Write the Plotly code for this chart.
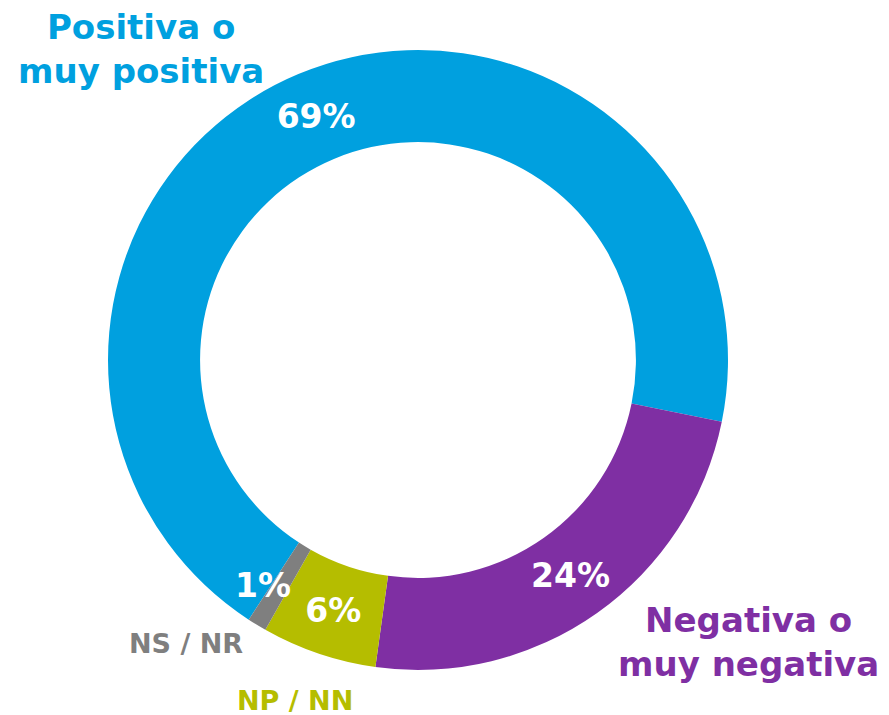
import math
import plotly.graph_objects as go

labels = ["Positiva o muy positiva", "Negativa o muy negativa", "NP / NN", "NS / NR"]
values = [69, 24, 6, 1]
colors = ["#00A0DF", "#7F2FA3", "#B5BD00", "#7F7F7F"]
pct_text = ["69%", "24%", "6%", "1%"]

W, H = 889, 715
FONT = "DejaVu Sans"
ROT = 213.1
HOLE = 0.703
DOM_X = [108 / W, 728 / W]
DOM_Y = [(H - 670) / H, (H - 50) / H]

# The tiny slice gets its label as an annotation so it is not clipped/displaced
textpos = ["inside", "inside", "inside", "none"]

fig = go.Figure()
fig.add_trace(go.Pie(
    labels=labels,
    values=values,
    text=pct_text,
    texttemplate="%{text}",
    textinfo="text",
    textposition=textpos,
    insidetextorientation="horizontal",
    textfont=dict(family=FONT, size=33, color="white", weight=700),
    marker=dict(colors=colors, line=dict(width=0)),
    hole=HOLE,
    sort=False,
    direction="clockwise",
    rotation=ROT,
    showlegend=False,
    domain=dict(x=DOM_X, y=DOM_Y),
))

# label for the small slice at its centroid (derived from the data)
total = sum(values)
cum = sum(values[:3]) + values[3] / 2
ang = math.radians(ROT + 360 * cum / total)
cx = (DOM_X[0] + DOM_X[1]) / 2 * W
cy = (DOM_Y[0] + DOM_Y[1]) / 2 * H
R = (DOM_X[1] - DOM_X[0]) * W / 2
rm = R * (1 + HOLE) / 2
fig.add_annotation(text=pct_text[3], x=(cx + rm * math.sin(ang)) / W,
                   y=(cy + rm * math.cos(ang)) / H, xref="paper", yref="paper",
                   showarrow=False, xanchor="center", yanchor="middle", xshift=-18,
                   font=dict(family=FONT, size=33, color="white", weight=700))

def ann(txt, x, y, color, size):
    fig.add_annotation(text=txt, x=x / W, y=1 - y / H, xref="paper", yref="paper",
                       showarrow=False, xanchor="center", yanchor="middle",
                       font=dict(family=FONT, size=size, color=color, weight=700))

ann("Positiva o<br>muy positiva", 141, 49, "#00A0DF", 34)
ann("Negativa o<br>muy negativa", 748, 642, "#7F2FA3", 34)
ann("NS / NR", 186, 643, "#7F7F7F", 27)
ann("NP / NN", 295, 700, "#B5BD00", 27)

fig.update_layout(
    width=W, height=H,
    margin=dict(l=0, r=0, t=0, b=0),
    paper_bgcolor="white", plot_bgcolor="white",
    uniformtext=dict(minsize=33, mode="show"),
)
fig.write_html("out.html", config={"displayModeBar": False},
               post_script="document.body.style.margin='0px';")
